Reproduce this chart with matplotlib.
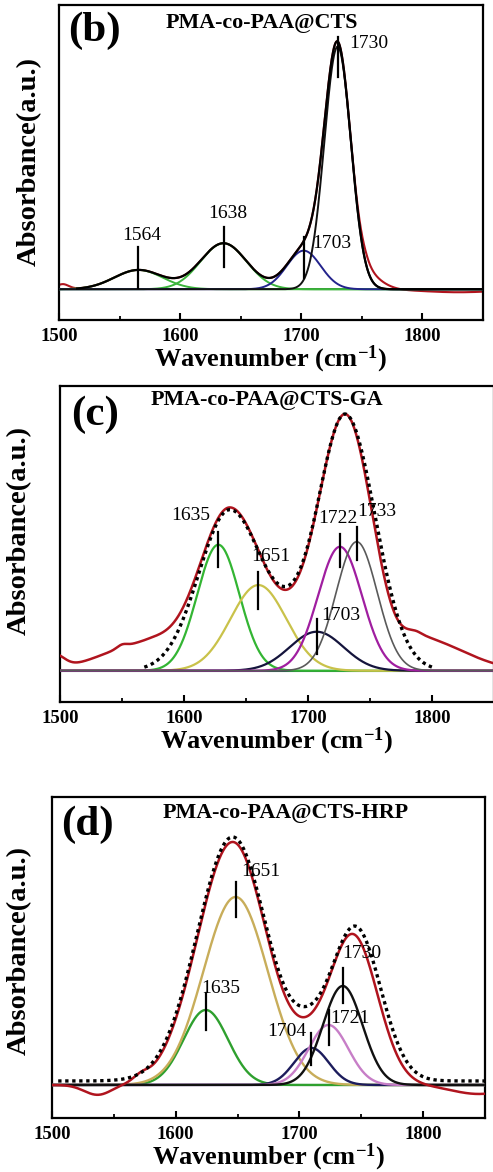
import numpy as np
import matplotlib
matplotlib.use("Agg")
import matplotlib.pyplot as plt
from matplotlib.ticker import MultipleLocator

plt.rcParams["font.family"] = ["Liberation Serif", "DejaVu Serif"]
plt.rcParams["mathtext.fontset"] = "custom"
plt.rcParams["mathtext.rm"] = "Liberation Serif:bold"
plt.rcParams["mathtext.bf"] = "Liberation Serif:bold"
plt.rcParams["mathtext.it"] = "Liberation Serif:bold"
plt.rcParams["axes.unicode_minus"] = False

# ---------------- data (heights in a.u.) ----------------
# (b) PMA-co-PAA@CTS : fitted gaussian components
b_comp_center = [1565.6, 1635.8, 1702.0, 1730.0]
b_comp_height = [19.3, 46.0, 38.6, 242.6]
b_comp_width = [20.0, 19.0, 14.0, 11.0]
b_labels = ["1564", "1638", "1703", "1730"]
# measured spectrum = components + these extra features
b_extra_center = [1503, 1755, 1830]
b_extra_height = [5, 12, -3]
b_extra_wl = [5, 6, 30]
b_extra_wr = [5, 12, 30]

# (c) PMA-co-PAA@CTS-GA
c_comp_center = [1627.7, 1660.0, 1707.0, 1725.8, 1739.3]
c_comp_height = [126.0, 85.7, 39.0, 124.0, 129.0]
c_comp_width = [17.0, 22.5, 21.7, 17.7, 16.6]
c_labels = ["1635", "1651", "1703", "1722", "1733"]
# cumulative fit (dotted)
c_env_center = [1637, 1730, 1685]
c_env_height = [161, 256, 14]
c_env_wl = [25, 22.5, 14]
c_env_wr = [28, 24, 14]
# measured spectrum
c_red_center = [1637, 1730, 1685, 1570, 1495, 1550, 1790]
c_red_height = [163, 256, 10, 27, 14, 3, 32]
c_red_wl = [25, 22.5, 14, 35, 8, 4, 12]
c_red_wr = [28, 22, 14, 22, 8, 4, 35]

# (d) PMA-co-PAA@CTS-HRP
d_comp_center = [1624.3, 1648.4, 1709.7, 1723.5, 1735.0]
d_comp_height = [75.0, 188.0, 37.0, 60.0, 99.0]
d_comp_width = [18.0, 26.0, 14.0, 16.0, 16.0]
d_labels = ["1635", "1651", "1704", "1721", "1730"]
d_env_center = [1646, 1745, 1705]
d_env_height = [244, 154, 25]
d_env_wl = [28.5, 20.5, 14]
d_env_wr = [28, 20.5, 14]
d_env_offset = 4
d_red_center = [1646, 1743, 1705, 1537, 1572, 1845]
d_red_height = [243, 150, 17, -10, 5, -9]
d_red_wl = [28.5, 20, 14, 11, 6, 22]
d_red_wr = [28, 20, 14, 11, 6, 22]

RED = "#b0141e"


def peaks(x, centers, heights, wl, wr=None):
    if wr is None:
        wr = wl
    y = np.zeros_like(x)
    for c, h, sl, sr in zip(centers, heights, wl, wr):
        s = np.where(x < c, sl, sr)
        y += h * np.exp(-(x - c) ** 2 / (2 * s ** 2))
    return y


def style_axes(ax, ylim):
    ax.set_xlim(1500, 1850)
    ax.set_ylim(*ylim)
    ax.set_yticks([])
    ax.xaxis.set_major_locator(MultipleLocator(100))
    ax.xaxis.set_minor_locator(MultipleLocator(50))
    ax.tick_params(axis="x", which="major", direction="in", length=5, width=1.5,
                   pad=6, labelsize=13.5, top=False)
    ax.tick_params(axis="x", which="minor", direction="in", length=3, width=1.3, top=False)
    for lbl in ax.get_xticklabels():
        lbl.set_fontweight("bold")
    for sp in ax.spines.values():
        sp.set_linewidth(1.6)
    ax.set_xlabel("Wavenumber (cm$^{-1}$)", fontsize=19, fontweight="bold", labelpad=-1)
    ax.set_ylabel("Absorbance(a.u.)", fontsize=20.5, fontweight="bold")


def annotate(ax, xs, labels, label_pos, marker_span):
    for x, lab, (lx, ly), (m0, m1) in zip(xs, labels, label_pos, marker_span):
        ax.plot([x, x], [m0, m1], color="black", lw=1.6, zorder=6)
        ax.text(lx, ly, lab, fontsize=14, ha="center", va="center", zorder=7)


fig = plt.figure(figsize=(4.93, 11.72), dpi=100)
x = np.linspace(1500, 1850, 1401)

# ---------------- (b) ----------------
ax = fig.add_axes([0.1197, 0.7270, 0.8600, 0.2688])
style_axes(ax, (-30.7, 284.3))
ax.axhline(0, color="black", lw=1.3, zorder=1)
b_colors = ["#3cb43c", "#3cb43c", "#23238c", "#111111"]
for c, h, w, col in zip(b_comp_center, b_comp_height, b_comp_width, b_colors):
    ax.plot(x, peaks(x, [c], [h], [w]), color=col, lw=1.4, zorder=3)
b_fit = peaks(x, b_comp_center, b_comp_height, b_comp_width)
b_meas = b_fit + peaks(x, b_extra_center, b_extra_height, b_extra_wl, b_extra_wr)
ax.plot(x, b_meas, color=RED, lw=1.5, zorder=2)
m = x >= 1515
ax.plot(x[m], b_fit[m], color="black", lw=1.6, zorder=4)
annotate(ax, b_comp_center, b_labels,
         [(1568.3, 54), (1639.4, 76), (1725.4, 46), (1755.6, 246)],
         [(1.3, 42), (22, 62), (11, 52), (212, 252)])
ax.text(0.022, 0.917, "(b)", transform=ax.transAxes, fontsize=31, fontweight="bold",
        ha="left", va="center")
ax.text(0.478, 0.944, "PMA-co-PAA@CTS", transform=ax.transAxes, fontsize=15.8,
        fontweight="bold", ha="center", va="center")
ax.yaxis.set_label_coords(-0.041, 0.503)

# ---------------- (c) ----------------
ax = fig.add_axes([0.1217, 0.4010, 0.8803, 0.2696])
style_axes(ax, (-31.3, 284.7))
ax.axhline(0, color="#2e5e4e", lw=1.5, zorder=1)
c_colors = ["#33b533", "#c9c24a", "#14143c", "#a01ea0", "#5a5a5a"]
c_lw = [1.6, 1.6, 1.6, 1.6, 1.2]
for c, h, w, col, lw in zip(c_comp_center, c_comp_height, c_comp_width, c_colors, c_lw):
    ax.plot(x, peaks(x, [c], [h], [w]), color=col, lw=lw, zorder=3)
ax.plot(x, peaks(x, c_red_center, c_red_height, c_red_wl, c_red_wr), color=RED, lw=1.8, zorder=4)
m = (x >= 1568) & (x <= 1800)
c_fit = peaks(x, c_env_center, c_env_height, c_env_wl, c_env_wr)
ax.plot(x[m], c_fit[m], color="black", lw=2.4, ls=(0, (1, 1.1)), zorder=5)
annotate(ax, c_comp_center, c_labels,
         [(1605.4, 155.7), (1669.9, 114), (1726.3, 55.7), (1724.5, 152.4), (1755.4, 159)],
         [(104, 139), (62, 99), (17, 52), (104, 137), (111, 144)])
ax.text(0.025, 0.908, "(c)", transform=ax.transAxes, fontsize=31, fontweight="bold",
        ha="left", va="center")
ax.text(0.476, 0.956, "PMA-co-PAA@CTS-GA", transform=ax.transAxes, fontsize=15.8,
        fontweight="bold", ha="center", va="center")
ax.yaxis.set_label_coords(-0.0645, 0.544)

# ---------------- (d) ----------------
ax = fig.add_axes([0.1055, 0.0461, 0.8783, 0.2739])
style_axes(ax, (-33, 288))
ax.axhline(0, color="#5b3c8c", lw=1.5, zorder=1)
d_colors = ["#2ea02e", "#c8ad5a", "#1c1c5c", "#c77ec7", "#111111"]
for c, h, w, col in zip(d_comp_center, d_comp_height, d_comp_width, d_colors):
    ax.plot(x, peaks(x, [c], [h], [w]), color=col, lw=1.7, zorder=3)
ax.plot(x, peaks(x, d_red_center, d_red_height, d_red_wl, d_red_wr), color=RED, lw=1.8, zorder=4)
m = x >= 1505
d_fit = peaks(x, d_env_center, d_env_height, d_env_wl, d_env_wr) + d_env_offset
ax.plot(x[m], d_fit[m], color="black", lw=2.4, ls=(0, (1, 1.1)), zorder=5)
annotate(ax, d_comp_center, d_labels,
         [(1636.4, 96.7), (1668.6, 213.3), (1690, 53.3), (1741, 66.7), (1750.4, 131.7)],
         [(55, 92), (168, 203), (20, 52), (40, 75), (82, 117)])
ax.text(0.02, 0.913, "(d)", transform=ax.transAxes, fontsize=31, fontweight="bold",
        ha="left", va="center")
ax.text(0.54, 0.949, "PMA-co-PAA@CTS-HRP", transform=ax.transAxes, fontsize=15.8,
        fontweight="bold", ha="center", va="center")
ax.yaxis.set_label_coords(-0.046, 0.523)

fig.savefig("out.png", dpi=100)
